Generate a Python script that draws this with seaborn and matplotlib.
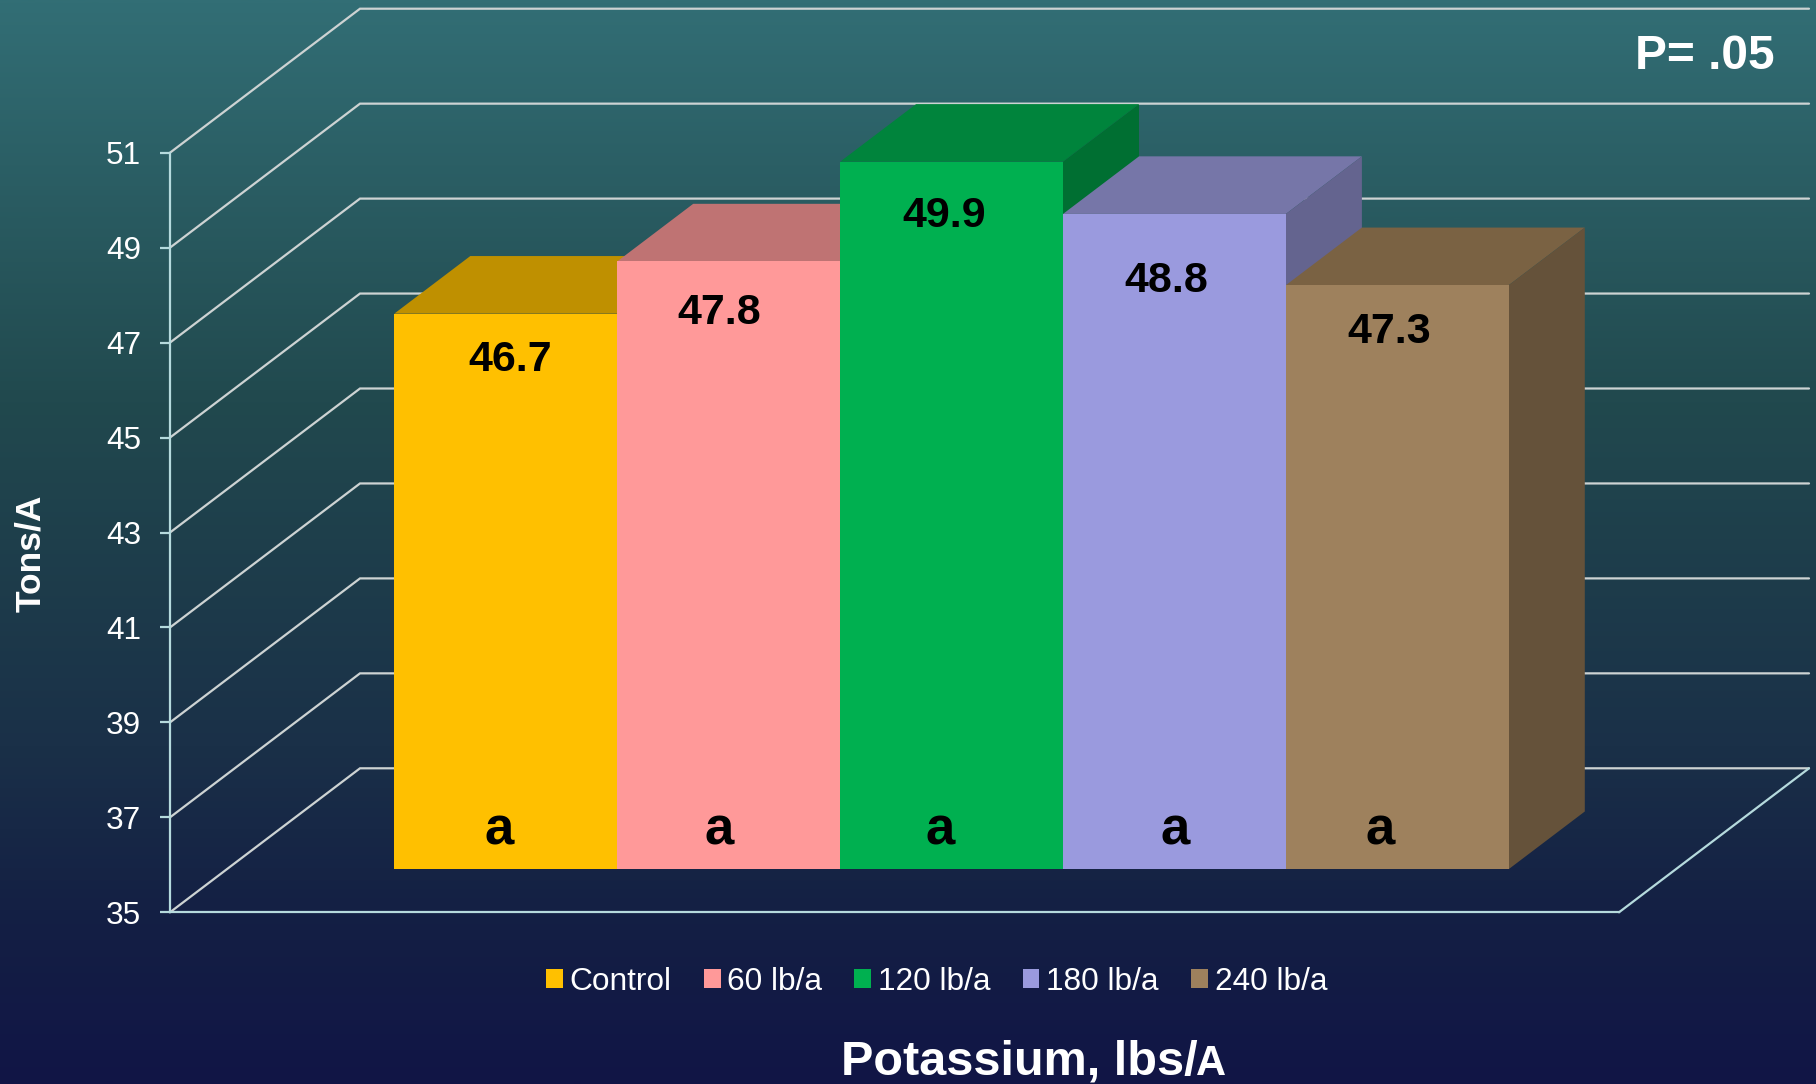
import numpy as np
import pandas as pd
import seaborn as sns
import matplotlib
matplotlib.use("Agg")
import matplotlib.pyplot as plt
from matplotlib.colors import LinearSegmentedColormap
from matplotlib.patches import Patch

# ---- data ----
treatments = ["Control", "60 lb/a", "120 lb/a", "180 lb/a", "240 lb/a"]
yields = [46.7, 47.8, 49.9, 48.8, 47.3]
letters = ["a", "a", "a", "a", "a"]
y_ticks = [35, 37, 39, 41, 43, 45, 47, 49, 51]

# ---- styles ----
front_colors = ["#FFC000", "#FF9999", "#00B050", "#9A9ADE", "#9E815D"]
top_colors = ["#BF9000", "#BF7373", "#00843C", "#7676A8", "#7A6243"]
side_colors = ["#A07A00", "#A06060", "#006F32", "#64648F", "#65523A"]
label_dx = [4, -9, -7, -8, -8]      # px offset from bar centre
label_dy = [-46, -52, -54, -67.5, -47]  # px offset from bar top
letter_x = [-7, -10, -11, 1, -17]

W, H = 1816, 1084
sns.set_theme(style="white")
plt.rcParams["font.family"] = ["Liberation Sans", "DejaVu Sans"]
fig = plt.figure(figsize=(W / 100, H / 100), dpi=100)


def rect(x0, x1, y_top, y_bot):
    return [x0 / W, 1 - y_bot / H, (x1 - x0) / W, (y_bot - y_top) / H]


def ftext(x, y, s, **kw):
    return fig.text(x / W, 1 - y / H, s, **kw)


# background gradient
bg = fig.add_axes([0, 0, 1, 1], zorder=0)
cmap = LinearSegmentedColormap.from_list(
    "bg",
    [(0.0, "#326E75"), (0.37, "#21494E"), (0.69, "#1A3048"), (0.84, "#142044"), (1.0, "#111546")],
)
bg.imshow(np.linspace(0, 1, 512)[:, None], aspect="auto", cmap=cmap, vmin=0, vmax=1,
          extent=[0, 1, 0, 1], origin="upper")
bg.axis("off")

# geometry (pixels)
FL, FR, FT, FB = 170, 1619, 152.7, 912.3     # front plane of the box
DX, DY = 190, 144                            # full box depth vector
BAR_LEFT, BAR_W = 394.3, 222.9
BAR_D = 0.4                                  # bar depth / box depth
OFF = 0.30                                   # bar plane position within the box
PX_Y = (FB - FT) / (y_ticks[-1] - y_ticks[0])

# frame axes with real y axis
ax = fig.add_axes(rect(FL, FR, FT, FB), zorder=1)
ax.patch.set_alpha(0)
ax.set_xlim(0, 1)
ax.set_ylim(y_ticks[0], y_ticks[-1])
ax.set_yticks(y_ticks)
ax.set_yticklabels([str(t) for t in y_ticks], color="white", fontsize=22.7)
ax.set_xticks([])
ax.tick_params(axis="y", length=7.2, width=1.6, color="#B5DADD", pad=13.5, left=True)
for s in ["top", "right"]:
    ax.spines[s].set_visible(False)
for s in ["left", "bottom"]:
    ax.spines[s].set_color("#B5DADD")
    ax.spines[s].set_linewidth(1.6)

wx = DX / (FR - FL)
wy = DY / PX_Y
for t in y_ticks:
    ax.plot([0, wx, 1 + wx], [t, t + wy, t + wy], color="#CDD3D3", lw=1.6,
            clip_on=False, solid_joinstyle="miter", zorder=1)
ax.plot([1, 1 + wx], [y_ticks[0], y_ticks[0] + wy], color="#B5DADD", lw=1.6, clip_on=False, zorder=2)

# bar axes: same scale, moved back into the box
bx0 = FL + OFF * DX
bx1 = FR + OFF * DX
by_shift = OFF * DY
axb = fig.add_axes(rect(bx0, bx1, FT - by_shift, FB - by_shift), zorder=2)
axb.patch.set_alpha(0)
df = pd.DataFrame({"treatment": treatments, "yield": yields})
sns.barplot(data=df, x="treatment", y="yield", hue="treatment", hue_order=treatments,
            palette=front_colors, width=1, dodge=False, legend=False, saturation=1, ax=axb)
axb.set_xlim(-0.5 - (BAR_LEFT - bx0) / BAR_W, -0.5 + (bx1 - BAR_LEFT) / BAR_W)
axb.set_ylim(y_ticks[0], y_ticks[-1])
axb.axis("off")
for p in axb.patches:
    p.set_zorder(20)
    p.set_edgecolor("none")

ddx = BAR_D * DX / BAR_W
ddy = BAR_D * DY / PX_Y
base = y_ticks[0]
for i, v in enumerate(yields):
    l, r = i - 0.5, i + 0.5
    axb.fill([l, r, r + ddx, l + ddx], [v, v, v + ddy, v + ddy], color=top_colors[i],
             lw=0, clip_on=False, zorder=5 + i)
    axb.fill([r, r + ddx, r + ddx, r], [base, base + ddy, v + ddy, v], color=side_colors[i],
             lw=0, clip_on=False, zorder=5 + i)
    axb.annotate(f"{v:.1f}", xy=(i, v), xytext=(label_dx[i] * 0.72, label_dy[i] * 0.72),
                 textcoords="offset points", ha="center", va="center", fontsize=31,
                 fontweight="bold", color="black", zorder=30)
    axb.annotate(letters[i], xy=(i, base), xytext=(letter_x[i] * 0.72, 25 * 0.72),
                 textcoords="offset points", ha="center", va="baseline", fontsize=38,
                 fontweight="bold", color="black", zorder=30)

# legend
handles = [Patch(facecolor=c, edgecolor="none", label=t) for c, t in zip(front_colors, treatments)]
leg = fig.legend(handles=handles, ncol=5, loc="center left",
                 bbox_to_anchor=(546 / W, 1 - 981.5 / H), frameon=False, fontsize=22.8,
                 handlelength=0.53, handleheight=0.53, handletextpad=0.22,
                 columnspacing=1.01, labelcolor="white", borderpad=0, borderaxespad=0)

# titles / annotations
ftext(841, 1075, "Potassium, lbs/", fontsize=35, fontweight="bold", color="white", ha="left", va="baseline")
ftext(1226, 1075, "A", fontsize=30, fontweight="bold", color="white", ha="right", va="baseline")
ftext(1775, 69, "P= .05", fontsize=34.5, fontweight="bold", color="white", ha="right", va="baseline")
ftext(31, 553, "Tons/A", fontsize=25.5, fontweight="bold", color="white", rotation=90, ha="center", va="center")

fig.savefig("out.png", dpi=100)
